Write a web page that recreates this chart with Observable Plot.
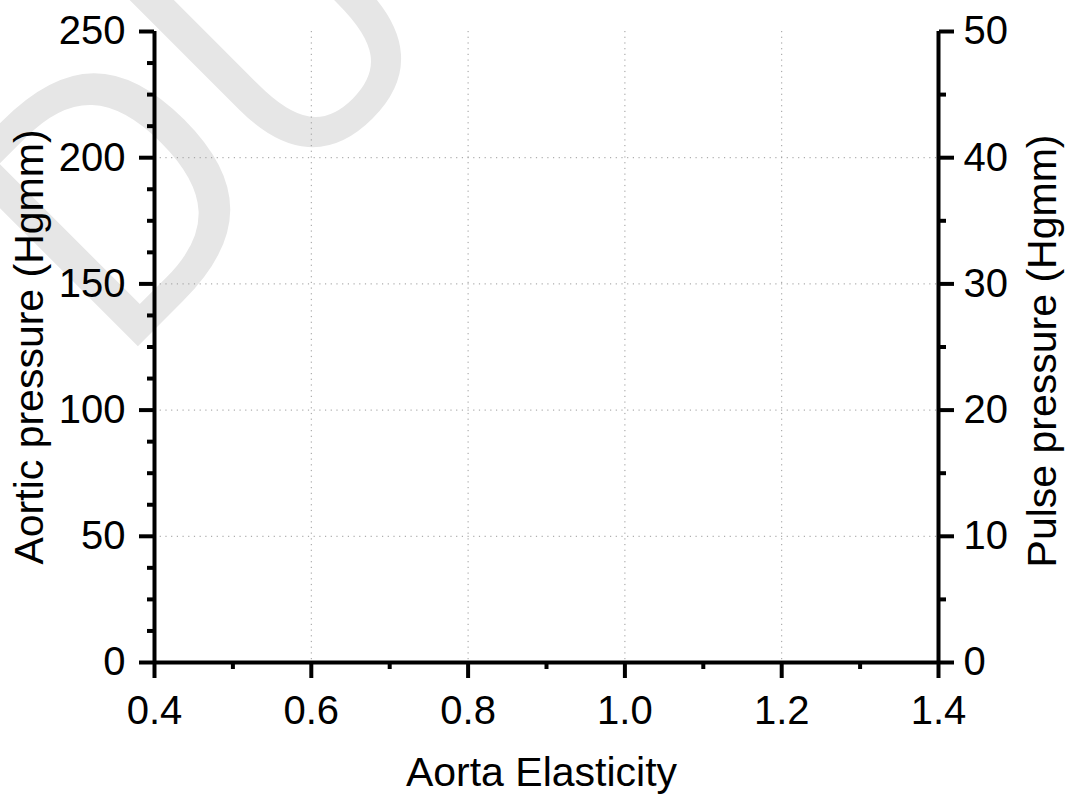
<!DOCTYPE html>
<html>
<head>
<meta charset="utf-8">
<script src="https://cdn.jsdelivr.net/npm/d3@7"></script>
<script src="https://cdn.jsdelivr.net/npm/@observablehq/plot@0.6"></script>
<style>
  html, body { margin: 0; padding: 0; background: #fff; }
  #chart svg { display: block; }
</style>
</head>
<body>
<div id="chart"></div>
<script>
// Axis domains and tick values
const xDomain = [0.4, 1.4];
const xTicks = [0.4, 0.6, 0.8, 1.0, 1.2, 1.4];
const xMinorTicks = [0.5, 0.7, 0.9, 1.1, 1.3];
const xGrid = [0.6, 0.8, 1.0, 1.2];

const aorticDomain = [0, 250];
const aorticTicks = [0, 50, 100, 150, 200, 250];
const aorticMinorTicks = [12.5, 25, 37.5, 62.5, 75, 87.5, 112.5, 125, 137.5, 162.5, 175, 187.5, 212.5, 225, 237.5];
const aorticGrid = [50, 100, 150, 200];

const pulseDomain = [0, 50];
const pulseTicks = [0, 10, 20, 30, 40, 50];
const pulseMinorTicks = [5, 15, 25, 35, 45];

const xTitle = "Aorta Elasticity";
const leftTitle = "Aortic pressure (Hgmm)";
const rightTitle = "Pulse pressure (Hgmm)";
const watermark = "DU";

// The right axis shares the left y scale: pulse values map proportionally onto it
const toAortic = v => v * aorticDomain[1] / pulseDomain[1];
const fromAortic = v => v * pulseDomain[1] / aorticDomain[1];

const W = 1071, H = 798;
const fmtX = d3.format(".1f");
const axisW = 4;
const gridStyle = {stroke: "#9a9a9a", strokeOpacity: 1, strokeWidth: 1, strokeDasharray: "1.2,4.5"};

const chart = Plot.plot({
  width: W,
  height: H,
  marginLeft: 154,
  marginRight: 133,
  marginTop: 31,
  marginBottom: 136,
  style: {fontFamily: "'Liberation Sans', Arial, sans-serif", fontSize: "40px", color: "#000", background: "#fff"},
  x: {domain: xDomain, axis: null},
  y: {domain: aorticDomain, axis: null},
  marks: [
    Plot.gridX(xGrid, gridStyle),
    Plot.gridY(aorticGrid, gridStyle),

    // minor ticks
    Plot.axisX(xMinorTicks, {anchor: "bottom", tickSize: 7, strokeWidth: axisW, tickFormat: () => "", label: null}),
    Plot.axisY(aorticMinorTicks, {anchor: "left", tickSize: 7, strokeWidth: axisW, tickFormat: () => "", label: null}),
    Plot.axisY(pulseMinorTicks.map(toAortic), {anchor: "right", tickSize: 7, strokeWidth: axisW, tickFormat: () => "", label: null}),

    // major ticks and labels
    Plot.axisX(xTicks, {anchor: "bottom", tickSize: 16, tickPadding: 17, strokeWidth: axisW, fontSize: 40, tickFormat: fmtX, label: null}),
    Plot.axisY(aorticTicks, {anchor: "left", tickSize: 15, tickPadding: 14, strokeWidth: axisW, fontSize: 40, label: null}),
    Plot.axisY(pulseTicks.map(toAortic), {anchor: "right", tickSize: 15, tickPadding: 10, strokeWidth: axisW, fontSize: 40, tickFormat: d => fromAortic(d), label: null}),

    // axis lines
    Plot.ruleX([xDomain[0], xDomain[1]], {strokeWidth: axisW}),
    Plot.ruleY([aorticDomain[0]], {strokeWidth: axisW}),

    // axis titles
    Plot.text([xTitle], {frameAnchor: "bottom", lineAnchor: "middle", textAnchor: "middle", dy: 110, dx: -5, fontSize: 41, text: d => d}),
    Plot.text([leftTitle], {frameAnchor: "left", lineAnchor: "middle", textAnchor: "middle", rotate: -90, dx: -125, fontSize: 41, text: d => d}),
    Plot.text([rightTitle], {frameAnchor: "right", lineAnchor: "middle", textAnchor: "middle", rotate: -90, dx: 104, dy: 4, fontSize: 41, text: d => d})
  ]
});

// Faint background lettering behind everything else
const svg = d3.select(chart);
svg.insert("text", ":first-child")
  .attr("transform", "translate(116,368) rotate(-45)")
  .attr("text-anchor", "start")
  .attr("font-size", 350)
  .attr("font-family", "'Liberation Sans Narrow', 'DejaVu Sans Condensed', sans-serif")
  .attr("font-stretch", "condensed")
  .attr("fill", "#e6e6e6")
  .text(watermark);

document.getElementById("chart").appendChild(chart);
</script>
</body>
</html>
